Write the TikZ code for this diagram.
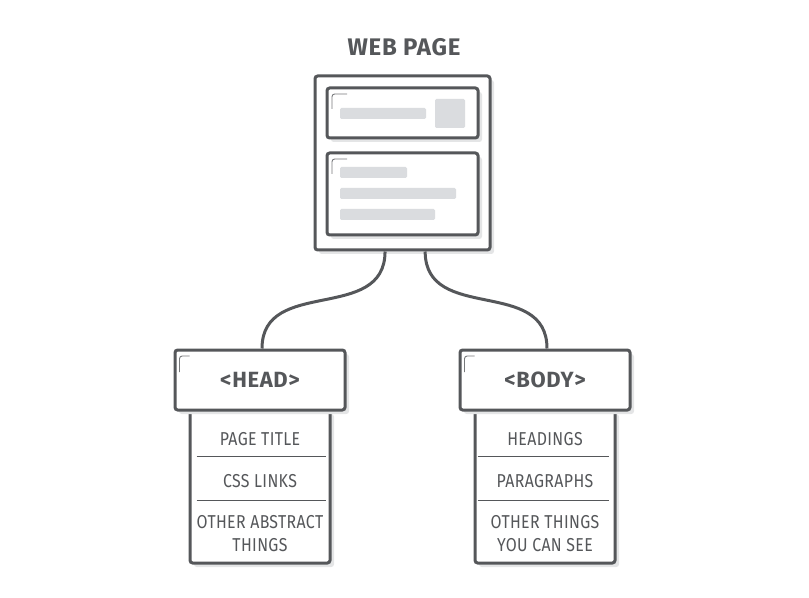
\documentclass[tikz,border=0pt]{standalone}
\usepackage{fontspec}
\setmainfont{Fira Sans}[FakeStretch=0.85, LetterSpace=2]
\newfontfamily\headfont{Fira Sans}[LetterSpace=3]
\usetikzlibrary{shadows}
\definecolor{ink}{HTML}{55575A}
\definecolor{barfill}{HTML}{DADCDF}
\definecolor{shade}{HTML}{E4E5E6}
\tikzstyle{frame} = [rectangle, rounded corners=2pt, draw=ink, fill=white, line width=2.25pt, inner sep=0pt, drop shadow={shadow xshift=3pt, shadow yshift=-3pt, fill=shade, opacity=1}]
\tikzstyle{tagbox} = [frame, minimum width=127.5pt, minimum height=45pt, text=ink, font=\headfont\bfseries\fontsize{16.5}{19}\selectfont, path picture={\draw[ink!80, line width=0.7pt] ([shift={(4.5,22)}]path picture bounding box.north west) -- ++(0,-16) -- ++(10,0);}]
\tikzstyle{listbox} = [frame, minimum width=105pt, minimum height=114.75pt]
\tikzstyle{panel} = [frame, minimum width=113.25pt, path picture={\draw[ink!80, line width=0.7pt] ([shift={(5,21)}]path picture bounding box.north west) -- ++(0,-15) -- ++(15,0);}]
\tikzstyle{bar} = [rectangle, rounded corners=1pt, fill=barfill, inner sep=0pt, minimum height=8.25pt]
\tikzstyle{item} = [text=ink, align=center, font=\fontsize{14}{17.25}\selectfont]
\tikzstyle{sep} = [draw=ink, line width=1pt]
\tikzstyle{link} = [draw=ink, line width=2.25pt]
\begin{document}
\begin{tikzpicture}[x=0.75pt, y=-0.75pt]
			\useasboundingbox (0,0) rectangle (809,598);
			\node[text=ink, font=\headfont\bfseries\fontsize{18}{21}\selectfont] (title) at (404,47) {WEB PAGE};
			% page mock-up
			\node[frame, minimum width=131.25pt, minimum height=130.5pt] (webpage) at (402.5,163) {};
			\node[panel, minimum height=37.5pt] (panelA) at (402.5,113) {};
			\node[panel, minimum height=61.5pt] (panelB) at (402.5,194) {};
			\node[bar, minimum width=64.5pt] (barA) at (383,113.5) {};
			\node[bar, minimum width=22.5pt, minimum height=21.75pt] (pic) at (450,113.5) {};
			\node[bar, minimum width=50.25pt] (barB) at (373.5,172.5) {};
			\node[bar, minimum width=87pt] (barC) at (398,193.5) {};
			\node[bar, minimum width=71.25pt] (barD) at (387.5,214.5) {};
			% lists
			\node[listbox] (headlist) at (260,486.5) {};
			\node[listbox] (bodylist) at (545,486.5) {};
			\node[tagbox] (head) at (260,380) {<HEAD>};
			\node[tagbox] (body) at (545,380) {<BODY>};
			\node[item] (title1) at (260,439) {PAGE TITLE};
			\node[item] (css) at (260,481) {CSS LINKS};
			\node[item] (other1) at (260,533.5) {OTHER ABSTRACT\\THINGS};
			\node[item] (headings) at (545,439) {HEADINGS};
			\node[item] (paras) at (545,481) {PARAGRAPHS};
			\node[item] (other2) at (545,533.5) {OTHER THINGS\\YOU CAN SEE};
			\draw[sep] ([shift={(8,48)}]headlist.north west) -- ([shift={(-6,48)}]headlist.north east);
			\draw[sep] ([shift={(8,92)}]headlist.north west) -- ([shift={(-6,92)}]headlist.north east);
			\draw[sep] ([shift={(4,48)}]bodylist.north west) -- ([shift={(-8,48)}]bodylist.north east);
			\draw[sep] ([shift={(4,92)}]bodylist.north west) -- ([shift={(-8,92)}]bodylist.north east);
			% connectors
			\draw[link] ([xshift=-13.1pt]webpage.south) .. controls +(0,72) and +(0,-72) .. ([xshift=1.5pt]head.north);
			\draw[link] ([xshift=17pt]webpage.south) .. controls +(0,72) and +(0,-72) .. ([xshift=1.5pt]body.north);
		\end{tikzpicture}
\end{document}
